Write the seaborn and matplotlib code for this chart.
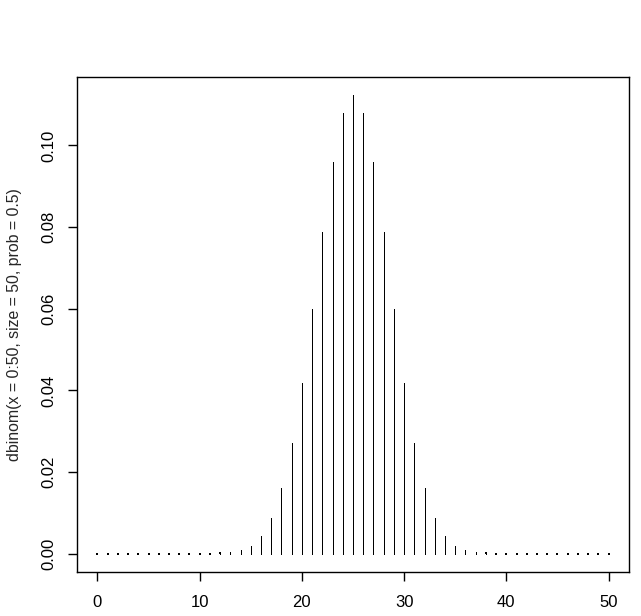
import matplotlib
matplotlib.use("Agg")
import matplotlib.pyplot as plt
import seaborn as sns
import numpy as np
import pandas as pd

# values (x = 0..50)
x_vals = list(range(0, 51))
y_vals = [0.0, 0.0, 0.0, 0.0, 0.0, 0.0, 0.0, 0.0, 0.0, 0.0,
          0.000011, 0.0000374, 0.0001154, 0.0003257, 0.0008418,
          0.0019969, 0.0043506, 0.0087013, 0.0160026, 0.0270044,
          0.0418884, 0.0598406, 0.0788257, 0.0959617, 0.1079569,
          0.1122752,
          0.1079569, 0.0959617, 0.0788257, 0.0598406, 0.0418884,
          0.0270044, 0.0160026, 0.0087013, 0.0043506, 0.0019969,
          0.0008418, 0.0003257, 0.0001154, 0.0000374, 0.000011,
          0.0, 0.0, 0.0, 0.0, 0.0, 0.0, 0.0, 0.0, 0.0, 0.0]
x_ticks = [0, 10, 20, 30, 40, 50]
y_ticks = [0.00, 0.02, 0.04, 0.06, 0.08, 0.10]
y_label = "dbinom(x = 0:50, size = 50, prob = 0.5)"

df = pd.DataFrame({"x": x_vals, "y": y_vals})

sns.set_style("white")
plt.rcParams['font.family'] = ['Liberation Sans', 'DejaVu Sans']

fig = plt.figure(figsize=(6.41, 6.16), dpi=100)
ax = fig.add_axes([77/641, 44/616, 552/641, 495/616])

ax.vlines(df["x"], 0, df["y"], color="black", linewidth=0.5,
          antialiased=False)
tiny = df[df["y"] < 2e-4]
sns.scatterplot(data=tiny, x="x", y="y", marker="s", s=1.0, color="black",
                linewidth=0, ax=ax)

ax.set_xlim(-2, 52)
ymax = max(y_vals)
ax.set_ylim(-0.04 * ymax, ymax * 1.04)
ax.set_xticks(x_ticks)
ax.set_xticklabels([str(t) for t in x_ticks])
ax.set_yticks(y_ticks)
ax.set_yticklabels([f"{t:.2f}" for t in y_ticks], rotation=90, va="center")
ax.set_xlabel("")
ax.set_ylabel(y_label, fontsize=11.4, va="center")
ax.yaxis.set_label_coords(-0.114, 0.5)

for s in ax.spines.values():
    s.set_visible(True)
    s.set_color("black")
    s.set_linewidth(1.0)

ax.tick_params(axis="both", which="major", direction="out", length=6.5,
               width=1.0, color="black", labelsize=12, labelcolor="black",
               bottom=True, left=True)
ax.tick_params(axis="x", pad=10)
ax.tick_params(axis="y", pad=8)

fig.savefig("out.png", dpi=100)
